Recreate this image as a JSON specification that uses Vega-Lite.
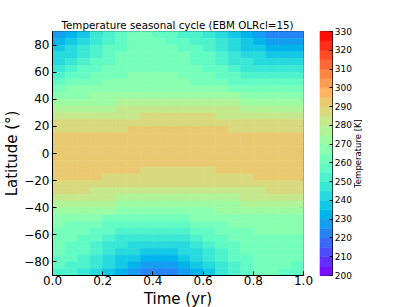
{
"$schema": "https://vega.github.io/schema/vega-lite/v6.json",
"padding": {"left": 4, "top": 20, "right": 5, "bottom": 0},
"background": "white",
"datasets": {
"field": [
{"t":0.025,"lat":87.5,"T":227},{"t":0.075,"lat":87.5,"T":233},{"t":0.125,"lat":87.5,"T":239},{"t":0.175,"lat":87.5,"T":245},{"t":0.225,"lat":87.5,"T":252},{"t":0.275,"lat":87.5,"T":258},{"t":0.325,"lat":87.5,"T":261},{"t":0.375,"lat":87.5,"T":261},{"t":0.425,"lat":87.5,"T":259},{"t":0.475,"lat":87.5,"T":257},{"t":0.525,"lat":87.5,"T":254},{"t":0.575,"lat":87.5,"T":250},{"t":0.625,"lat":87.5,"T":246},{"t":0.675,"lat":87.5,"T":242},{"t":0.725,"lat":87.5,"T":238},{"t":0.775,"lat":87.5,"T":233},{"t":0.825,"lat":87.5,"T":228},{"t":0.875,"lat":87.5,"T":224},{"t":0.925,"lat":87.5,"T":222},{"t":0.975,"lat":87.5,"T":223},
{"t":0.025,"lat":82.5,"T":232},{"t":0.075,"lat":82.5,"T":237.5},{"t":0.125,"lat":82.5,"T":243},{"t":0.175,"lat":82.5,"T":248.5},{"t":0.225,"lat":82.5,"T":254},{"t":0.275,"lat":82.5,"T":258.5},{"t":0.325,"lat":82.5,"T":261},{"t":0.375,"lat":82.5,"T":261.5},{"t":0.425,"lat":82.5,"T":261},{"t":0.475,"lat":82.5,"T":259.5},{"t":0.525,"lat":82.5,"T":257.5},{"t":0.575,"lat":82.5,"T":254},{"t":0.625,"lat":82.5,"T":250},{"t":0.675,"lat":82.5,"T":246},{"t":0.725,"lat":82.5,"T":240.5},{"t":0.775,"lat":82.5,"T":236.5},{"t":0.825,"lat":82.5,"T":232},{"t":0.875,"lat":82.5,"T":228.5},{"t":0.925,"lat":82.5,"T":227},{"t":0.975,"lat":82.5,"T":228.5},
{"t":0.025,"lat":77.5,"T":236.5},{"t":0.075,"lat":77.5,"T":241.5},{"t":0.125,"lat":77.5,"T":246.5},{"t":0.175,"lat":77.5,"T":251},{"t":0.225,"lat":77.5,"T":255.5},{"t":0.275,"lat":77.5,"T":259},{"t":0.325,"lat":77.5,"T":261.5},{"t":0.375,"lat":77.5,"T":262.5},{"t":0.425,"lat":77.5,"T":262.3},{"t":0.475,"lat":77.5,"T":261.2},{"t":0.525,"lat":77.5,"T":259.5},{"t":0.575,"lat":77.5,"T":256.5},{"t":0.625,"lat":77.5,"T":253},{"t":0.675,"lat":77.5,"T":249},{"t":0.725,"lat":77.5,"T":243.5},{"t":0.775,"lat":77.5,"T":239},{"t":0.825,"lat":77.5,"T":236.5},{"t":0.875,"lat":77.5,"T":234},{"t":0.925,"lat":77.5,"T":233},{"t":0.975,"lat":77.5,"T":233.8},
{"t":0.025,"lat":72.5,"T":240.5},{"t":0.075,"lat":72.5,"T":244.5},{"t":0.125,"lat":72.5,"T":249},{"t":0.175,"lat":72.5,"T":253},{"t":0.225,"lat":72.5,"T":257},{"t":0.275,"lat":72.5,"T":260},{"t":0.325,"lat":72.5,"T":262},{"t":0.375,"lat":72.5,"T":263},{"t":0.425,"lat":72.5,"T":263},{"t":0.475,"lat":72.5,"T":262},{"t":0.525,"lat":72.5,"T":260.5},{"t":0.575,"lat":72.5,"T":258},{"t":0.625,"lat":72.5,"T":255},{"t":0.675,"lat":72.5,"T":251.5},{"t":0.725,"lat":72.5,"T":246},{"t":0.775,"lat":72.5,"T":241.5},{"t":0.825,"lat":72.5,"T":240},{"t":0.875,"lat":72.5,"T":239},{"t":0.925,"lat":72.5,"T":238.5},{"t":0.975,"lat":72.5,"T":238.8},
{"t":0.025,"lat":67.5,"T":244.5},{"t":0.075,"lat":67.5,"T":248},{"t":0.125,"lat":67.5,"T":251.5},{"t":0.175,"lat":67.5,"T":255},{"t":0.225,"lat":67.5,"T":258.5},{"t":0.275,"lat":67.5,"T":261},{"t":0.325,"lat":67.5,"T":262.8},{"t":0.375,"lat":67.5,"T":263.8},{"t":0.425,"lat":67.5,"T":264},{"t":0.475,"lat":67.5,"T":263},{"t":0.525,"lat":67.5,"T":261.5},{"t":0.575,"lat":67.5,"T":259.5},{"t":0.625,"lat":67.5,"T":256.5},{"t":0.675,"lat":67.5,"T":253},{"t":0.725,"lat":67.5,"T":249},{"t":0.775,"lat":67.5,"T":245},{"t":0.825,"lat":67.5,"T":244},{"t":0.875,"lat":67.5,"T":243.3},{"t":0.925,"lat":67.5,"T":243},{"t":0.975,"lat":67.5,"T":243.2},
{"t":0.025,"lat":62.5,"T":249.5},{"t":0.075,"lat":62.5,"T":252.5},{"t":0.125,"lat":62.5,"T":255.5},{"t":0.175,"lat":62.5,"T":258.5},{"t":0.225,"lat":62.5,"T":261},{"t":0.275,"lat":62.5,"T":263},{"t":0.325,"lat":62.5,"T":264.3},{"t":0.375,"lat":62.5,"T":264.8},{"t":0.425,"lat":62.5,"T":264.8},{"t":0.475,"lat":62.5,"T":264},{"t":0.525,"lat":62.5,"T":262.5},{"t":0.575,"lat":62.5,"T":260.5},{"t":0.625,"lat":62.5,"T":258},{"t":0.675,"lat":62.5,"T":255},{"t":0.725,"lat":62.5,"T":252},{"t":0.775,"lat":62.5,"T":249},{"t":0.825,"lat":62.5,"T":247.5},{"t":0.875,"lat":62.5,"T":246.6},{"t":0.925,"lat":62.5,"T":246.5},{"t":0.975,"lat":62.5,"T":247},
{"t":0.025,"lat":57.5,"T":254.5},{"t":0.075,"lat":57.5,"T":257},{"t":0.125,"lat":57.5,"T":259.5},{"t":0.175,"lat":57.5,"T":261.5},{"t":0.225,"lat":57.5,"T":263},{"t":0.275,"lat":57.5,"T":264.3},{"t":0.325,"lat":57.5,"T":265.3},{"t":0.375,"lat":57.5,"T":265.8},{"t":0.425,"lat":57.5,"T":265.8},{"t":0.475,"lat":57.5,"T":265},{"t":0.525,"lat":57.5,"T":263.8},{"t":0.575,"lat":57.5,"T":262},{"t":0.625,"lat":57.5,"T":260},{"t":0.675,"lat":57.5,"T":258},{"t":0.725,"lat":57.5,"T":255.5},{"t":0.775,"lat":57.5,"T":253.5},{"t":0.825,"lat":57.5,"T":252.3},{"t":0.875,"lat":57.5,"T":251.7},{"t":0.925,"lat":57.5,"T":251.8},{"t":0.975,"lat":57.5,"T":252.5},
{"t":0.025,"lat":52.5,"T":259.3},{"t":0.075,"lat":52.5,"T":261},{"t":0.125,"lat":52.5,"T":262.5},{"t":0.175,"lat":52.5,"T":264},{"t":0.225,"lat":52.5,"T":265.2},{"t":0.275,"lat":52.5,"T":266.2},{"t":0.325,"lat":52.5,"T":267},{"t":0.375,"lat":52.5,"T":267.5},{"t":0.425,"lat":52.5,"T":267.5},{"t":0.475,"lat":52.5,"T":267},{"t":0.525,"lat":52.5,"T":266},{"t":0.575,"lat":52.5,"T":264.5},{"t":0.625,"lat":52.5,"T":263},{"t":0.675,"lat":52.5,"T":261.3},{"t":0.725,"lat":52.5,"T":259.8},{"t":0.775,"lat":52.5,"T":258.5},{"t":0.825,"lat":52.5,"T":257.5},{"t":0.875,"lat":52.5,"T":257},{"t":0.925,"lat":52.5,"T":257.2},{"t":0.975,"lat":52.5,"T":258},
{"t":0.025,"lat":47.5,"T":264},{"t":0.075,"lat":47.5,"T":265},{"t":0.125,"lat":47.5,"T":266.2},{"t":0.175,"lat":47.5,"T":267.3},{"t":0.225,"lat":47.5,"T":268.2},{"t":0.275,"lat":47.5,"T":268.8},{"t":0.325,"lat":47.5,"T":269.3},{"t":0.375,"lat":47.5,"T":269.5},{"t":0.425,"lat":47.5,"T":269.4},{"t":0.475,"lat":47.5,"T":269},{"t":0.525,"lat":47.5,"T":268.3},{"t":0.575,"lat":47.5,"T":267.3},{"t":0.625,"lat":47.5,"T":266.2},{"t":0.675,"lat":47.5,"T":265.2},{"t":0.725,"lat":47.5,"T":264.3},{"t":0.775,"lat":47.5,"T":263.6},{"t":0.825,"lat":47.5,"T":263.2},{"t":0.875,"lat":47.5,"T":263},{"t":0.925,"lat":47.5,"T":263},{"t":0.975,"lat":47.5,"T":263.2},
{"t":0.025,"lat":42.5,"T":268.6},{"t":0.075,"lat":42.5,"T":269},{"t":0.125,"lat":42.5,"T":269.5},{"t":0.175,"lat":42.5,"T":270.2},{"t":0.225,"lat":42.5,"T":270.8},{"t":0.275,"lat":42.5,"T":271.5},{"t":0.325,"lat":42.5,"T":272},{"t":0.375,"lat":42.5,"T":272.4},{"t":0.425,"lat":42.5,"T":272.6},{"t":0.475,"lat":42.5,"T":272.6},{"t":0.525,"lat":42.5,"T":272.4},{"t":0.575,"lat":42.5,"T":272},{"t":0.625,"lat":42.5,"T":271.5},{"t":0.675,"lat":42.5,"T":270.8},{"t":0.725,"lat":42.5,"T":270.2},{"t":0.775,"lat":42.5,"T":269.5},{"t":0.825,"lat":42.5,"T":269},{"t":0.875,"lat":42.5,"T":268.6},{"t":0.925,"lat":42.5,"T":268.4},{"t":0.975,"lat":42.5,"T":268.4},
{"t":0.025,"lat":37.5,"T":272.9},{"t":0.075,"lat":37.5,"T":273.1},{"t":0.125,"lat":37.5,"T":273.5},{"t":0.175,"lat":37.5,"T":274},{"t":0.225,"lat":37.5,"T":274.6},{"t":0.275,"lat":37.5,"T":275.3},{"t":0.325,"lat":37.5,"T":275.9},{"t":0.375,"lat":37.5,"T":276.4},{"t":0.425,"lat":37.5,"T":276.8},{"t":0.475,"lat":37.5,"T":277},{"t":0.525,"lat":37.5,"T":277},{"t":0.575,"lat":37.5,"T":276.8},{"t":0.625,"lat":37.5,"T":276.4},{"t":0.675,"lat":37.5,"T":275.9},{"t":0.725,"lat":37.5,"T":275.3},{"t":0.775,"lat":37.5,"T":274.6},{"t":0.825,"lat":37.5,"T":274},{"t":0.875,"lat":37.5,"T":273.5},{"t":0.925,"lat":37.5,"T":273.1},{"t":0.975,"lat":37.5,"T":272.9},
{"t":0.025,"lat":32.5,"T":276.8},{"t":0.075,"lat":32.5,"T":277.1},{"t":0.125,"lat":32.5,"T":277.6},{"t":0.175,"lat":32.5,"T":278.4},{"t":0.225,"lat":32.5,"T":279.2},{"t":0.275,"lat":32.5,"T":280.1},{"t":0.325,"lat":32.5,"T":280.9},{"t":0.375,"lat":32.5,"T":281.7},{"t":0.425,"lat":32.5,"T":282.2},{"t":0.475,"lat":32.5,"T":282.5},{"t":0.525,"lat":32.5,"T":282.5},{"t":0.575,"lat":32.5,"T":282.2},{"t":0.625,"lat":32.5,"T":281.7},{"t":0.675,"lat":32.5,"T":280.9},{"t":0.725,"lat":32.5,"T":280.1},{"t":0.775,"lat":32.5,"T":279.2},{"t":0.825,"lat":32.5,"T":278.4},{"t":0.875,"lat":32.5,"T":277.6},{"t":0.925,"lat":32.5,"T":277.1},{"t":0.975,"lat":32.5,"T":276.8},
{"t":0.025,"lat":27.5,"T":280.5},{"t":0.075,"lat":27.5,"T":280.8},{"t":0.125,"lat":27.5,"T":281.4},{"t":0.175,"lat":27.5,"T":282.1},{"t":0.225,"lat":27.5,"T":283},{"t":0.275,"lat":27.5,"T":284},{"t":0.325,"lat":27.5,"T":284.9},{"t":0.375,"lat":27.5,"T":285.6},{"t":0.425,"lat":27.5,"T":286.2},{"t":0.475,"lat":27.5,"T":286.5},{"t":0.525,"lat":27.5,"T":286.5},{"t":0.575,"lat":27.5,"T":286.2},{"t":0.625,"lat":27.5,"T":285.6},{"t":0.675,"lat":27.5,"T":284.9},{"t":0.725,"lat":27.5,"T":284},{"t":0.775,"lat":27.5,"T":283},{"t":0.825,"lat":27.5,"T":282.1},{"t":0.875,"lat":27.5,"T":281.4},{"t":0.925,"lat":27.5,"T":280.8},{"t":0.975,"lat":27.5,"T":280.5},
{"t":0.025,"lat":22.5,"T":285.2},{"t":0.075,"lat":22.5,"T":285.4},{"t":0.125,"lat":22.5,"T":285.7},{"t":0.175,"lat":22.5,"T":286.2},{"t":0.225,"lat":22.5,"T":286.8},{"t":0.275,"lat":22.5,"T":287.3},{"t":0.325,"lat":22.5,"T":287.9},{"t":0.375,"lat":22.5,"T":288.4},{"t":0.425,"lat":22.5,"T":288.7},{"t":0.475,"lat":22.5,"T":288.9},{"t":0.525,"lat":22.5,"T":288.9},{"t":0.575,"lat":22.5,"T":288.7},{"t":0.625,"lat":22.5,"T":288.4},{"t":0.675,"lat":22.5,"T":287.9},{"t":0.725,"lat":22.5,"T":287.3},{"t":0.775,"lat":22.5,"T":286.8},{"t":0.825,"lat":22.5,"T":286.2},{"t":0.875,"lat":22.5,"T":285.7},{"t":0.925,"lat":22.5,"T":285.4},{"t":0.975,"lat":22.5,"T":285.2},
{"t":0.025,"lat":17.5,"T":287.8},{"t":0.075,"lat":17.5,"T":288},{"t":0.125,"lat":17.5,"T":288.3},{"t":0.175,"lat":17.5,"T":288.7},{"t":0.225,"lat":17.5,"T":289.2},{"t":0.275,"lat":17.5,"T":289.6},{"t":0.325,"lat":17.5,"T":290.1},{"t":0.375,"lat":17.5,"T":290.5},{"t":0.425,"lat":17.5,"T":290.8},{"t":0.475,"lat":17.5,"T":291},{"t":0.525,"lat":17.5,"T":291},{"t":0.575,"lat":17.5,"T":290.8},{"t":0.625,"lat":17.5,"T":290.5},{"t":0.675,"lat":17.5,"T":290.1},{"t":0.725,"lat":17.5,"T":289.6},{"t":0.775,"lat":17.5,"T":289.2},{"t":0.825,"lat":17.5,"T":288.7},{"t":0.875,"lat":17.5,"T":288.3},{"t":0.925,"lat":17.5,"T":288},{"t":0.975,"lat":17.5,"T":287.8},
{"t":0.025,"lat":12.5,"T":290.4},{"t":0.075,"lat":12.5,"T":290.5},{"t":0.125,"lat":12.5,"T":290.7},{"t":0.175,"lat":12.5,"T":291},{"t":0.225,"lat":12.5,"T":291.2},{"t":0.275,"lat":12.5,"T":291.6},{"t":0.325,"lat":12.5,"T":291.9},{"t":0.375,"lat":12.5,"T":292.1},{"t":0.425,"lat":12.5,"T":292.3},{"t":0.475,"lat":12.5,"T":292.4},{"t":0.525,"lat":12.5,"T":292.4},{"t":0.575,"lat":12.5,"T":292.3},{"t":0.625,"lat":12.5,"T":292.1},{"t":0.675,"lat":12.5,"T":291.9},{"t":0.725,"lat":12.5,"T":291.6},{"t":0.775,"lat":12.5,"T":291.2},{"t":0.825,"lat":12.5,"T":291},{"t":0.875,"lat":12.5,"T":290.7},{"t":0.925,"lat":12.5,"T":290.5},{"t":0.975,"lat":12.5,"T":290.4},
{"t":0.025,"lat":7.5,"T":291.3},{"t":0.075,"lat":7.5,"T":291.4},{"t":0.125,"lat":7.5,"T":291.5},{"t":0.175,"lat":7.5,"T":291.8},{"t":0.225,"lat":7.5,"T":292},{"t":0.275,"lat":7.5,"T":292.3},{"t":0.325,"lat":7.5,"T":292.5},{"t":0.375,"lat":7.5,"T":292.8},{"t":0.425,"lat":7.5,"T":292.9},{"t":0.475,"lat":7.5,"T":293},{"t":0.525,"lat":7.5,"T":293},{"t":0.575,"lat":7.5,"T":292.9},{"t":0.625,"lat":7.5,"T":292.8},{"t":0.675,"lat":7.5,"T":292.5},{"t":0.725,"lat":7.5,"T":292.3},{"t":0.775,"lat":7.5,"T":292},{"t":0.825,"lat":7.5,"T":291.8},{"t":0.875,"lat":7.5,"T":291.5},{"t":0.925,"lat":7.5,"T":291.4},{"t":0.975,"lat":7.5,"T":291.3},
{"t":0.025,"lat":2.5,"T":291.8},{"t":0.075,"lat":2.5,"T":291.9},{"t":0.125,"lat":2.5,"T":292},{"t":0.175,"lat":2.5,"T":292.1},{"t":0.225,"lat":2.5,"T":292.3},{"t":0.275,"lat":2.5,"T":292.5},{"t":0.325,"lat":2.5,"T":292.7},{"t":0.375,"lat":2.5,"T":292.8},{"t":0.425,"lat":2.5,"T":292.9},{"t":0.475,"lat":2.5,"T":293},{"t":0.525,"lat":2.5,"T":293},{"t":0.575,"lat":2.5,"T":292.9},{"t":0.625,"lat":2.5,"T":292.8},{"t":0.675,"lat":2.5,"T":292.7},{"t":0.725,"lat":2.5,"T":292.5},{"t":0.775,"lat":2.5,"T":292.3},{"t":0.825,"lat":2.5,"T":292.1},{"t":0.875,"lat":2.5,"T":292},{"t":0.925,"lat":2.5,"T":291.9},{"t":0.975,"lat":2.5,"T":291.8},
{"t":0.025,"lat":-2.5,"T":293},{"t":0.075,"lat":-2.5,"T":292.9},{"t":0.125,"lat":-2.5,"T":292.8},{"t":0.175,"lat":-2.5,"T":292.7},{"t":0.225,"lat":-2.5,"T":292.5},{"t":0.275,"lat":-2.5,"T":292.3},{"t":0.325,"lat":-2.5,"T":292.1},{"t":0.375,"lat":-2.5,"T":292},{"t":0.425,"lat":-2.5,"T":291.9},{"t":0.475,"lat":-2.5,"T":291.8},{"t":0.525,"lat":-2.5,"T":291.8},{"t":0.575,"lat":-2.5,"T":291.9},{"t":0.625,"lat":-2.5,"T":292},{"t":0.675,"lat":-2.5,"T":292.1},{"t":0.725,"lat":-2.5,"T":292.3},{"t":0.775,"lat":-2.5,"T":292.5},{"t":0.825,"lat":-2.5,"T":292.7},{"t":0.875,"lat":-2.5,"T":292.8},{"t":0.925,"lat":-2.5,"T":292.9},{"t":0.975,"lat":-2.5,"T":293},
{"t":0.025,"lat":-7.5,"T":293},{"t":0.075,"lat":-7.5,"T":292.9},{"t":0.125,"lat":-7.5,"T":292.8},{"t":0.175,"lat":-7.5,"T":292.5},{"t":0.225,"lat":-7.5,"T":292.3},{"t":0.275,"lat":-7.5,"T":292},{"t":0.325,"lat":-7.5,"T":291.8},{"t":0.375,"lat":-7.5,"T":291.5},{"t":0.425,"lat":-7.5,"T":291.4},{"t":0.475,"lat":-7.5,"T":291.3},{"t":0.525,"lat":-7.5,"T":291.3},{"t":0.575,"lat":-7.5,"T":291.4},{"t":0.625,"lat":-7.5,"T":291.5},{"t":0.675,"lat":-7.5,"T":291.8},{"t":0.725,"lat":-7.5,"T":292},{"t":0.775,"lat":-7.5,"T":292.3},{"t":0.825,"lat":-7.5,"T":292.5},{"t":0.875,"lat":-7.5,"T":292.8},{"t":0.925,"lat":-7.5,"T":292.9},{"t":0.975,"lat":-7.5,"T":293},
{"t":0.025,"lat":-12.5,"T":291.6},{"t":0.075,"lat":-12.5,"T":291.5},{"t":0.125,"lat":-12.5,"T":291.3},{"t":0.175,"lat":-12.5,"T":291.1},{"t":0.225,"lat":-12.5,"T":290.8},{"t":0.275,"lat":-12.5,"T":290.4},{"t":0.325,"lat":-12.5,"T":290.2},{"t":0.375,"lat":-12.5,"T":289.9},{"t":0.425,"lat":-12.5,"T":289.7},{"t":0.475,"lat":-12.5,"T":289.6},{"t":0.525,"lat":-12.5,"T":289.6},{"t":0.575,"lat":-12.5,"T":289.7},{"t":0.625,"lat":-12.5,"T":289.9},{"t":0.675,"lat":-12.5,"T":290.2},{"t":0.725,"lat":-12.5,"T":290.4},{"t":0.775,"lat":-12.5,"T":290.8},{"t":0.825,"lat":-12.5,"T":291.1},{"t":0.875,"lat":-12.5,"T":291.3},{"t":0.925,"lat":-12.5,"T":291.5},{"t":0.975,"lat":-12.5,"T":291.6},
{"t":0.025,"lat":-17.5,"T":291},{"t":0.075,"lat":-17.5,"T":290.8},{"t":0.125,"lat":-17.5,"T":290.5},{"t":0.175,"lat":-17.5,"T":290.1},{"t":0.225,"lat":-17.5,"T":289.6},{"t":0.275,"lat":-17.5,"T":289.2},{"t":0.325,"lat":-17.5,"T":288.7},{"t":0.375,"lat":-17.5,"T":288.3},{"t":0.425,"lat":-17.5,"T":288},{"t":0.475,"lat":-17.5,"T":287.8},{"t":0.525,"lat":-17.5,"T":287.8},{"t":0.575,"lat":-17.5,"T":288},{"t":0.625,"lat":-17.5,"T":288.3},{"t":0.675,"lat":-17.5,"T":288.7},{"t":0.725,"lat":-17.5,"T":289.2},{"t":0.775,"lat":-17.5,"T":289.6},{"t":0.825,"lat":-17.5,"T":290.1},{"t":0.875,"lat":-17.5,"T":290.5},{"t":0.925,"lat":-17.5,"T":290.8},{"t":0.975,"lat":-17.5,"T":291},
{"t":0.025,"lat":-22.5,"T":288.9},{"t":0.075,"lat":-22.5,"T":288.7},{"t":0.125,"lat":-22.5,"T":288.4},{"t":0.175,"lat":-22.5,"T":287.9},{"t":0.225,"lat":-22.5,"T":287.3},{"t":0.275,"lat":-22.5,"T":286.8},{"t":0.325,"lat":-22.5,"T":286.2},{"t":0.375,"lat":-22.5,"T":285.7},{"t":0.425,"lat":-22.5,"T":285.4},{"t":0.475,"lat":-22.5,"T":285.2},{"t":0.525,"lat":-22.5,"T":285.2},{"t":0.575,"lat":-22.5,"T":285.4},{"t":0.625,"lat":-22.5,"T":285.7},{"t":0.675,"lat":-22.5,"T":286.2},{"t":0.725,"lat":-22.5,"T":286.8},{"t":0.775,"lat":-22.5,"T":287.3},{"t":0.825,"lat":-22.5,"T":287.9},{"t":0.875,"lat":-22.5,"T":288.4},{"t":0.925,"lat":-22.5,"T":288.7},{"t":0.975,"lat":-22.5,"T":288.9},
{"t":0.025,"lat":-27.5,"T":286.5},{"t":0.075,"lat":-27.5,"T":286.2},{"t":0.125,"lat":-27.5,"T":285.6},{"t":0.175,"lat":-27.5,"T":284.9},{"t":0.225,"lat":-27.5,"T":284},{"t":0.275,"lat":-27.5,"T":283},{"t":0.325,"lat":-27.5,"T":282.1},{"t":0.375,"lat":-27.5,"T":281.4},{"t":0.425,"lat":-27.5,"T":280.8},{"t":0.475,"lat":-27.5,"T":280.5},{"t":0.525,"lat":-27.5,"T":280.5},{"t":0.575,"lat":-27.5,"T":280.8},{"t":0.625,"lat":-27.5,"T":281.4},{"t":0.675,"lat":-27.5,"T":282.1},{"t":0.725,"lat":-27.5,"T":283},{"t":0.775,"lat":-27.5,"T":284},{"t":0.825,"lat":-27.5,"T":284.9},{"t":0.875,"lat":-27.5,"T":285.6},{"t":0.925,"lat":-27.5,"T":286.2},{"t":0.975,"lat":-27.5,"T":286.5},
{"t":0.025,"lat":-32.5,"T":282.5},{"t":0.075,"lat":-32.5,"T":282.2},{"t":0.125,"lat":-32.5,"T":281.7},{"t":0.175,"lat":-32.5,"T":280.9},{"t":0.225,"lat":-32.5,"T":280.1},{"t":0.275,"lat":-32.5,"T":279.2},{"t":0.325,"lat":-32.5,"T":278.4},{"t":0.375,"lat":-32.5,"T":277.6},{"t":0.425,"lat":-32.5,"T":277.1},{"t":0.475,"lat":-32.5,"T":276.8},{"t":0.525,"lat":-32.5,"T":276.8},{"t":0.575,"lat":-32.5,"T":277.1},{"t":0.625,"lat":-32.5,"T":277.6},{"t":0.675,"lat":-32.5,"T":278.4},{"t":0.725,"lat":-32.5,"T":279.2},{"t":0.775,"lat":-32.5,"T":280.1},{"t":0.825,"lat":-32.5,"T":280.9},{"t":0.875,"lat":-32.5,"T":281.7},{"t":0.925,"lat":-32.5,"T":282.2},{"t":0.975,"lat":-32.5,"T":282.5},
{"t":0.025,"lat":-37.5,"T":277},{"t":0.075,"lat":-37.5,"T":276.8},{"t":0.125,"lat":-37.5,"T":276.4},{"t":0.175,"lat":-37.5,"T":275.9},{"t":0.225,"lat":-37.5,"T":275.3},{"t":0.275,"lat":-37.5,"T":274.6},{"t":0.325,"lat":-37.5,"T":274},{"t":0.375,"lat":-37.5,"T":273.5},{"t":0.425,"lat":-37.5,"T":273.1},{"t":0.475,"lat":-37.5,"T":272.9},{"t":0.525,"lat":-37.5,"T":272.9},{"t":0.575,"lat":-37.5,"T":273.1},{"t":0.625,"lat":-37.5,"T":273.5},{"t":0.675,"lat":-37.5,"T":274},{"t":0.725,"lat":-37.5,"T":274.6},{"t":0.775,"lat":-37.5,"T":275.3},{"t":0.825,"lat":-37.5,"T":275.9},{"t":0.875,"lat":-37.5,"T":276.4},{"t":0.925,"lat":-37.5,"T":276.8},{"t":0.975,"lat":-37.5,"T":277},
{"t":0.025,"lat":-42.5,"T":272.4},{"t":0.075,"lat":-42.5,"T":272},{"t":0.125,"lat":-42.5,"T":271.5},{"t":0.175,"lat":-42.5,"T":270.8},{"t":0.225,"lat":-42.5,"T":270.2},{"t":0.275,"lat":-42.5,"T":269.5},{"t":0.325,"lat":-42.5,"T":269},{"t":0.375,"lat":-42.5,"T":268.6},{"t":0.425,"lat":-42.5,"T":268.4},{"t":0.475,"lat":-42.5,"T":268.4},{"t":0.525,"lat":-42.5,"T":268.6},{"t":0.575,"lat":-42.5,"T":269},{"t":0.625,"lat":-42.5,"T":269.5},{"t":0.675,"lat":-42.5,"T":270.2},{"t":0.725,"lat":-42.5,"T":270.8},{"t":0.775,"lat":-42.5,"T":271.5},{"t":0.825,"lat":-42.5,"T":272},{"t":0.875,"lat":-42.5,"T":272.4},{"t":0.925,"lat":-42.5,"T":272.6},{"t":0.975,"lat":-42.5,"T":272.6},
{"t":0.025,"lat":-47.5,"T":268.3},{"t":0.075,"lat":-47.5,"T":267.3},{"t":0.125,"lat":-47.5,"T":266.2},{"t":0.175,"lat":-47.5,"T":265.2},{"t":0.225,"lat":-47.5,"T":264.3},{"t":0.275,"lat":-47.5,"T":263.6},{"t":0.325,"lat":-47.5,"T":263.2},{"t":0.375,"lat":-47.5,"T":263},{"t":0.425,"lat":-47.5,"T":263},{"t":0.475,"lat":-47.5,"T":263.2},{"t":0.525,"lat":-47.5,"T":264},{"t":0.575,"lat":-47.5,"T":265},{"t":0.625,"lat":-47.5,"T":266.2},{"t":0.675,"lat":-47.5,"T":267.3},{"t":0.725,"lat":-47.5,"T":268.2},{"t":0.775,"lat":-47.5,"T":268.8},{"t":0.825,"lat":-47.5,"T":269.3},{"t":0.875,"lat":-47.5,"T":269.5},{"t":0.925,"lat":-47.5,"T":269.4},{"t":0.975,"lat":-47.5,"T":269},
{"t":0.025,"lat":-52.5,"T":266},{"t":0.075,"lat":-52.5,"T":264.5},{"t":0.125,"lat":-52.5,"T":263},{"t":0.175,"lat":-52.5,"T":261.3},{"t":0.225,"lat":-52.5,"T":259.8},{"t":0.275,"lat":-52.5,"T":258.5},{"t":0.325,"lat":-52.5,"T":257.5},{"t":0.375,"lat":-52.5,"T":257},{"t":0.425,"lat":-52.5,"T":257.2},{"t":0.475,"lat":-52.5,"T":258},{"t":0.525,"lat":-52.5,"T":259.3},{"t":0.575,"lat":-52.5,"T":261},{"t":0.625,"lat":-52.5,"T":262.5},{"t":0.675,"lat":-52.5,"T":264},{"t":0.725,"lat":-52.5,"T":265.2},{"t":0.775,"lat":-52.5,"T":266.2},{"t":0.825,"lat":-52.5,"T":267},{"t":0.875,"lat":-52.5,"T":267.5},{"t":0.925,"lat":-52.5,"T":267.5},{"t":0.975,"lat":-52.5,"T":267},
{"t":0.025,"lat":-57.5,"T":263.8},{"t":0.075,"lat":-57.5,"T":262},{"t":0.125,"lat":-57.5,"T":260},{"t":0.175,"lat":-57.5,"T":258},{"t":0.225,"lat":-57.5,"T":255.5},{"t":0.275,"lat":-57.5,"T":253.5},{"t":0.325,"lat":-57.5,"T":252.3},{"t":0.375,"lat":-57.5,"T":251.7},{"t":0.425,"lat":-57.5,"T":251.8},{"t":0.475,"lat":-57.5,"T":252.5},{"t":0.525,"lat":-57.5,"T":254.5},{"t":0.575,"lat":-57.5,"T":257},{"t":0.625,"lat":-57.5,"T":259.5},{"t":0.675,"lat":-57.5,"T":261.5},{"t":0.725,"lat":-57.5,"T":263},{"t":0.775,"lat":-57.5,"T":264.3},{"t":0.825,"lat":-57.5,"T":265.3},{"t":0.875,"lat":-57.5,"T":265.8},{"t":0.925,"lat":-57.5,"T":265.8},{"t":0.975,"lat":-57.5,"T":265},
{"t":0.025,"lat":-62.5,"T":262.5},{"t":0.075,"lat":-62.5,"T":260.5},{"t":0.125,"lat":-62.5,"T":258},{"t":0.175,"lat":-62.5,"T":255},{"t":0.225,"lat":-62.5,"T":252},{"t":0.275,"lat":-62.5,"T":249},{"t":0.325,"lat":-62.5,"T":247.5},{"t":0.375,"lat":-62.5,"T":246.6},{"t":0.425,"lat":-62.5,"T":246.5},{"t":0.475,"lat":-62.5,"T":247},{"t":0.525,"lat":-62.5,"T":249.5},{"t":0.575,"lat":-62.5,"T":252.5},{"t":0.625,"lat":-62.5,"T":255.5},{"t":0.675,"lat":-62.5,"T":258.5},{"t":0.725,"lat":-62.5,"T":261},{"t":0.775,"lat":-62.5,"T":263},{"t":0.825,"lat":-62.5,"T":264.3},{"t":0.875,"lat":-62.5,"T":264.8},{"t":0.925,"lat":-62.5,"T":264.8},{"t":0.975,"lat":-62.5,"T":264},
{"t":0.025,"lat":-67.5,"T":261.5},{"t":0.075,"lat":-67.5,"T":259.5},{"t":0.125,"lat":-67.5,"T":256.5},{"t":0.175,"lat":-67.5,"T":253},{"t":0.225,"lat":-67.5,"T":249},{"t":0.275,"lat":-67.5,"T":245},{"t":0.325,"lat":-67.5,"T":244},{"t":0.375,"lat":-67.5,"T":243.3},{"t":0.425,"lat":-67.5,"T":243},{"t":0.475,"lat":-67.5,"T":243.2},{"t":0.525,"lat":-67.5,"T":244.5},{"t":0.575,"lat":-67.5,"T":248},{"t":0.625,"lat":-67.5,"T":251.5},{"t":0.675,"lat":-67.5,"T":255},{"t":0.725,"lat":-67.5,"T":258.5},{"t":0.775,"lat":-67.5,"T":261},{"t":0.825,"lat":-67.5,"T":262.8},{"t":0.875,"lat":-67.5,"T":263.8},{"t":0.925,"lat":-67.5,"T":264},{"t":0.975,"lat":-67.5,"T":263},
{"t":0.025,"lat":-72.5,"T":260.5},{"t":0.075,"lat":-72.5,"T":258},{"t":0.125,"lat":-72.5,"T":255},{"t":0.175,"lat":-72.5,"T":251.5},{"t":0.225,"lat":-72.5,"T":246},{"t":0.275,"lat":-72.5,"T":241.5},{"t":0.325,"lat":-72.5,"T":240},{"t":0.375,"lat":-72.5,"T":239},{"t":0.425,"lat":-72.5,"T":238.5},{"t":0.475,"lat":-72.5,"T":238.8},{"t":0.525,"lat":-72.5,"T":240.5},{"t":0.575,"lat":-72.5,"T":244.5},{"t":0.625,"lat":-72.5,"T":249},{"t":0.675,"lat":-72.5,"T":253},{"t":0.725,"lat":-72.5,"T":257},{"t":0.775,"lat":-72.5,"T":260},{"t":0.825,"lat":-72.5,"T":262},{"t":0.875,"lat":-72.5,"T":263},{"t":0.925,"lat":-72.5,"T":263},{"t":0.975,"lat":-72.5,"T":262},
{"t":0.025,"lat":-77.5,"T":259.5},{"t":0.075,"lat":-77.5,"T":256.5},{"t":0.125,"lat":-77.5,"T":253},{"t":0.175,"lat":-77.5,"T":249},{"t":0.225,"lat":-77.5,"T":243.5},{"t":0.275,"lat":-77.5,"T":239},{"t":0.325,"lat":-77.5,"T":236.5},{"t":0.375,"lat":-77.5,"T":234},{"t":0.425,"lat":-77.5,"T":233},{"t":0.475,"lat":-77.5,"T":233.8},{"t":0.525,"lat":-77.5,"T":236.5},{"t":0.575,"lat":-77.5,"T":241.5},{"t":0.625,"lat":-77.5,"T":246.5},{"t":0.675,"lat":-77.5,"T":251},{"t":0.725,"lat":-77.5,"T":255.5},{"t":0.775,"lat":-77.5,"T":259},{"t":0.825,"lat":-77.5,"T":261.5},{"t":0.875,"lat":-77.5,"T":262.5},{"t":0.925,"lat":-77.5,"T":262.3},{"t":0.975,"lat":-77.5,"T":261.2},
{"t":0.025,"lat":-82.5,"T":257.5},{"t":0.075,"lat":-82.5,"T":254},{"t":0.125,"lat":-82.5,"T":250},{"t":0.175,"lat":-82.5,"T":246},{"t":0.225,"lat":-82.5,"T":240.5},{"t":0.275,"lat":-82.5,"T":236.5},{"t":0.325,"lat":-82.5,"T":232},{"t":0.375,"lat":-82.5,"T":228.5},{"t":0.425,"lat":-82.5,"T":227},{"t":0.475,"lat":-82.5,"T":228.5},{"t":0.525,"lat":-82.5,"T":232},{"t":0.575,"lat":-82.5,"T":237.5},{"t":0.625,"lat":-82.5,"T":243},{"t":0.675,"lat":-82.5,"T":248.5},{"t":0.725,"lat":-82.5,"T":254},{"t":0.775,"lat":-82.5,"T":258.5},{"t":0.825,"lat":-82.5,"T":261},{"t":0.875,"lat":-82.5,"T":261.5},{"t":0.925,"lat":-82.5,"T":261},{"t":0.975,"lat":-82.5,"T":259.5},
{"t":0.025,"lat":-87.5,"T":254},{"t":0.075,"lat":-87.5,"T":250},{"t":0.125,"lat":-87.5,"T":246},{"t":0.175,"lat":-87.5,"T":242},{"t":0.225,"lat":-87.5,"T":238},{"t":0.275,"lat":-87.5,"T":233},{"t":0.325,"lat":-87.5,"T":228},{"t":0.375,"lat":-87.5,"T":224},{"t":0.425,"lat":-87.5,"T":222},{"t":0.475,"lat":-87.5,"T":223},{"t":0.525,"lat":-87.5,"T":227},{"t":0.575,"lat":-87.5,"T":233},{"t":0.625,"lat":-87.5,"T":239},{"t":0.675,"lat":-87.5,"T":245},{"t":0.725,"lat":-87.5,"T":252},{"t":0.775,"lat":-87.5,"T":258},{"t":0.825,"lat":-87.5,"T":261},{"t":0.875,"lat":-87.5,"T":261},{"t":0.925,"lat":-87.5,"T":259},{"t":0.975,"lat":-87.5,"T":257}
],
"levels": [
{"T":202.5},{"T":207.5},{"T":212.5},{"T":217.5},{"T":222.5},{"T":227.5},{"T":232.5},{"T":237.5},{"T":242.5},{"T":247.5},{"T":252.5},{"T":257.5},{"T":262.5},{"T":267.5},{"T":272.5},{"T":277.5},{"T":282.5},{"T":287.5},{"T":292.5},{"T":297.5},{"T":302.5},{"T":307.5},{"T":312.5},{"T":317.5},{"T":322.5},{"T":327.5}
]
},
"hconcat": [
{
"width": 251, "height": 244,
"title": {"text": "Temperature seasonal cycle (EBM OLRcl=15)", "font": "DejaVu Sans", "fontSize": 10.3, "fontWeight": "normal", "offset": -1, "anchor": "middle", "color": "black"},
"data": {"name": "field"},
"layer": [
{
"mark": {"type": "rect", "binSpacing": 0, "strokeWidth": 0.6},
"encoding": {
"x": {"field": "t", "type": "quantitative", "bin": {"step": 0.05, "extent": [0, 1]},
"scale": {"domain": [0, 1], "nice": false, "zero": false},
"axis": {"orient": "bottom", "values": [0, 0.2, 0.4, 0.6, 0.8, 1.0], "format": ".1f", "title": "Time (yr)", "labelFlush": false, "tickSize": -4, "labelPadding": 4, "titlePadding": 5, "labelFontSize": 12, "titleFontSize": 15}},
"y": {"field": "lat", "type": "quantitative", "bin": {"step": 5, "extent": [-90, 90]},
"scale": {"domain": [-90, 90], "nice": false, "zero": false},
"axis": {"orient": "left", "values": [-80, -60, -40, -20, 0, 20, 40, 60, 80], "format": "d", "title": "Latitude (°)", "labelFlush": false, "tickSize": -4, "labelPadding": 7, "titlePadding": 4, "labelFontSize": 12, "titleFontSize": 15}},
"color": {"field": "T", "type": "quantitative",
"scale": {"type": "quantize", "domain": [200, 330], "range": ["#760fff","#622efe","#4e4cfc","#3b69f9","#2784f6","#149df1","#00b4ec","#14c9e5","#27dade","#3be8d6","#4ef3cd","#62fbc4","#76ffba","#89ffaf","#9dfba3","#b1f397","#c4e88b","#d8da7d","#ebc970","#ffb462","#ff9d53","#ff8444","#ff6936","#ff4c26","#ff2e17","#ff0f08"]},
"legend": null},
"stroke": {"field": "T", "type": "quantitative",
"scale": {"type": "quantize", "domain": [200, 330], "range": ["#760fff","#622efe","#4e4cfc","#3b69f9","#2784f6","#149df1","#00b4ec","#14c9e5","#27dade","#3be8d6","#4ef3cd","#62fbc4","#76ffba","#89ffaf","#9dfba3","#b1f397","#c4e88b","#d8da7d","#ebc970","#ffb462","#ff9d53","#ff8444","#ff6936","#ff4c26","#ff2e17","#ff0f08"]},
"legend": null}
}
},
{
"mark": {"type": "point", "opacity": 0},
"encoding": {
"x": {"field": "t", "type": "quantitative", "axis": {"orient": "top", "values": [0, 0.2, 0.4, 0.6, 0.8, 1.0], "labels": false, "title": null, "tickSize": -4, "domain": false}},
"y": {"field": "lat", "type": "quantitative", "axis": {"orient": "right", "values": [-80, -60, -40, -20, 0, 20, 40, 60, 80], "labels": false, "title": null, "tickSize": -4, "domain": false}}
}
}
],
"resolve": {"axis": {"x": "independent", "y": "independent"}}
},
{
"width": 12, "height": 244,
"data": {"name": "levels"},
"mark": {"type": "rect", "binSpacing": 0, "strokeWidth": 0.6},
"encoding": {
"y": {"field": "T", "type": "quantitative", "bin": {"step": 5, "extent": [200, 330]},
"scale": {"domain": [200, 330], "nice": false, "zero": false},
"axis": {"orient": "right", "values": [200, 210, 220, 230, 240, 250, 260, 270, 280, 290, 300, 310, 320, 330], "format": "d", "title": "Temperature [K]", "titleAngle": 270, "titleBaseline": "top", "titlePadding": 2, "titleFontSize": 8.5, "labelFlush": false, "tickSize": -3, "labelPadding": 5.3, "labelFontSize": 9, "domain": false}},
"color": {"field": "T", "type": "quantitative",
"scale": {"type": "quantize", "domain": [200, 330], "range": ["#760fff","#622efe","#4e4cfc","#3b69f9","#2784f6","#149df1","#00b4ec","#14c9e5","#27dade","#3be8d6","#4ef3cd","#62fbc4","#76ffba","#89ffaf","#9dfba3","#b1f397","#c4e88b","#d8da7d","#ebc970","#ffb462","#ff9d53","#ff8444","#ff6936","#ff4c26","#ff2e17","#ff0f08"]},
"legend": null},
"stroke": {"field": "T", "type": "quantitative",
"scale": {"type": "quantize", "domain": [200, 330], "range": ["#760fff","#622efe","#4e4cfc","#3b69f9","#2784f6","#149df1","#00b4ec","#14c9e5","#27dade","#3be8d6","#4ef3cd","#62fbc4","#76ffba","#89ffaf","#9dfba3","#b1f397","#c4e88b","#d8da7d","#ebc970","#ffb462","#ff9d53","#ff8444","#ff6936","#ff4c26","#ff2e17","#ff0f08"]},
"legend": null}
}
}
],
"spacing": 17,
"bounds": "flush",
"config": {
"font": "DejaVu Sans",
"view": {"stroke": "black", "strokeWidth": 1},
"axis": {"grid": false, "domainColor": "black", "tickColor": "black", "labelColor": "black", "titleColor": "black", "titleFontWeight": "normal", "labelFont": "DejaVu Sans", "titleFont": "DejaVu Sans"}
}
}
